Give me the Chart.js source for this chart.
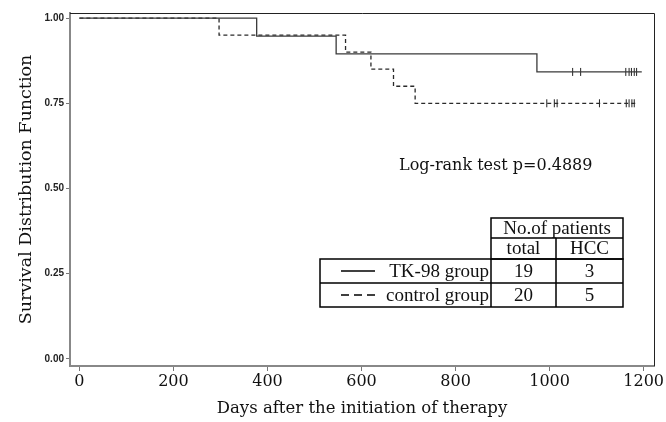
<!DOCTYPE html>
<html>
<head>
<meta charset="utf-8">
<script src="https://cdn.jsdelivr.net/npm/chart.js@4"></script>
<style>
  html, body { margin: 0; padding: 0; background: #fff; }
  #wrap { width: 666px; height: 422px; }
</style>
</head>
<body>
<div id="wrap"><canvas id="km-chart" width="666" height="422"></canvas></div>
<script>
// Kaplan-Meier steps (day, survival)
const tkDays = [0, 377, 546, 973, 1196]
const tkSurv = [1.0, 0.947, 0.895, 0.842, 0.842]
const ctrlDays = [0, 297, 566, 620, 668, 714, 1188]
const ctrlSurv = [1.0, 0.95, 0.90, 0.85, 0.80, 0.75, 0.75]

// censored observations
const tkCensorDays = [1049, 1066, 1162, 1169, 1174, 1180, 1185]
const tkCensorSurv = 0.842
const ctrlCensorDays = [994, 1010, 1016, 1106, 1163, 1169, 1175, 1180]
const ctrlCensorSurv = 0.75

// table in the lower right
const groupNames = ['TK-98 group', 'control group']
const totalPatients = [19, 20]
const hccCounts = [3, 5]
const pValueText = 'Log-rank test p=0.4889'

const serif = '"DejaVu Serif", serif'
const tableFont = '"Liberation Serif", "Times New Roman", serif'

const toPoints = (xs, ys) => xs.map((x, i) => ({ x, y: Array.isArray(ys) ? ys[i] : ys }))

const extras = {
  id: 'extras',
  afterDraw(chart) {
    const ctx = chart.ctx
    const a = chart.chartArea
    ctx.save()
    // top and right edges of the frame
    ctx.strokeStyle = '#222'
    ctx.lineWidth = 1
    ctx.beginPath()
    ctx.moveTo(a.left, a.top + 0.5)
    ctx.lineTo(a.right + 0.5, a.top + 0.5)
    ctx.lineTo(a.right + 0.5, a.bottom)
    ctx.stroke()

    // log-rank text
    ctx.fillStyle = '#111'
    ctx.font = '16px ' + serif
    ctx.textBaseline = 'middle'
    ctx.textAlign = 'left'
    ctx.fillText(pValueText, 399, 166)

    // table
    const L = 320, C1 = 491, C2 = 556, R = 623
    const r0 = 218, r1 = 238, r2 = 259, r3 = 283, r4 = 307
    ctx.strokeStyle = '#000'
    ctx.lineWidth = 1.5
    ctx.strokeRect(C1, r0, R - C1, r2 - r0)
    ctx.beginPath()
    ctx.moveTo(C1, r1); ctx.lineTo(R, r1)
    ctx.moveTo(C2, r1); ctx.lineTo(C2, r4)
    ctx.stroke()
    ctx.strokeRect(L, r2, R - L, r4 - r2)
    ctx.beginPath()
    ctx.moveTo(L, r3); ctx.lineTo(R, r3)
    ctx.moveTo(C1, r2); ctx.lineTo(C1, r4)
    ctx.stroke()

    ctx.font = '19px ' + tableFont
    ctx.textAlign = 'center'
    ctx.fillText('No.of patients', (C1 + R) / 2, (r0 + r1) / 2 + 1)
    ctx.fillText('total', (C1 + C2) / 2, (r1 + r2) / 2 + 1)
    ctx.fillText('HCC', (C2 + R) / 2, (r1 + r2) / 2 + 1)
    const rows = [[r2, r3], [r3, r4]]
    rows.forEach(([t, b], i) => {
      const cy = (t + b) / 2 + 1
      ctx.textAlign = 'center'
      ctx.fillText(String(totalPatients[i]), (C1 + C2) / 2, cy)
      ctx.fillText(String(hccCounts[i]), (C2 + R) / 2, cy)
      ctx.textAlign = 'right'
      ctx.fillText(groupNames[i], C1 - 2, cy)
      // legend line sample
      ctx.lineWidth = 1.6
      ctx.setLineDash(i === 0 ? [] : [8, 5])
      ctx.beginPath()
      ctx.moveTo(341, cy - 1)
      ctx.lineTo(375, cy - 1)
      ctx.stroke()
      ctx.setLineDash([])
    })
    ctx.restore()
  }
}

const ctx = document.getElementById('km-chart').getContext('2d')
new Chart(ctx, {
  type: 'line',
  data: {
    datasets: [
      {
        label: 'TK-98 group',
        data: toPoints(tkDays, tkSurv),
        stepped: true,
        borderColor: '#3a3a3a',
        borderWidth: 1.3,
        pointRadius: 0,
        fill: false
      },
      {
        label: 'control group',
        data: toPoints(ctrlDays, ctrlSurv),
        stepped: true,
        borderColor: '#2a2a2a',
        borderWidth: 1.3,
        borderDash: [4, 3],
        pointRadius: 0,
        fill: false
      },
      {
        label: 'TK-98 censored',
        data: toPoints(tkCensorDays, tkCensorSurv),
        showLine: false,
        pointStyle: 'line',
        rotation: 90,
        pointRadius: 4,
        pointBorderWidth: 1,
        borderColor: '#222'
      },
      {
        label: 'control censored',
        data: toPoints(ctrlCensorDays, ctrlCensorSurv),
        showLine: false,
        pointStyle: 'line',
        rotation: 90,
        pointRadius: 4,
        pointBorderWidth: 1,
        borderColor: '#222'
      }
    ]
  },
  options: {
    responsive: false,
    animation: false,
    layout: { padding: { top: 13, right: 12, left: 0, bottom: 0 } },
    plugins: { legend: { display: false }, tooltip: { enabled: false } },
    scales: {
      x: {
        type: 'linear',
        min: -20,
        max: 1222,
        afterFit: s => { s.height = 56 },
        grid: { display: true, drawOnChartArea: false, drawTicks: true, tickLength: 5, color: '#777' },
        border: { display: true, color: '#888', width: 2 },
        ticks: {
          stepSize: 200,
          includeBounds: false,
          padding: 1,
          color: '#111',
          font: { family: serif, size: 16 },
          maxRotation: 0,
          callback: v => String(v)
        },
        title: {
          display: true,
          text: 'Days after the initiation of therapy',
          color: '#111',
          font: { family: serif, size: 16.5 },
          padding: { top: 0, bottom: 3 }
        }
      },
      y: {
        min: -0.021,
        max: 1.015,
        afterFit: s => { s.width = 70 },
        grid: { display: true, drawOnChartArea: false, drawTicks: true, tickLength: 4, color: '#777' },
        border: { display: true, color: '#888', width: 2 },
        ticks: {
          stepSize: 0.25,
          includeBounds: false,
          padding: 2,
          color: '#222',
          font: { family: '"Liberation Sans", Arial, sans-serif', size: 10, weight: 'bold' },
          callback: v => v.toFixed(2)
        },
        title: {
          display: true,
          text: 'Survival Distribution Function',
          color: '#111',
          font: { family: serif, size: 17.5 },
          padding: { top: 16, bottom: 0 }
        }
      }
    }
  },
  plugins: [extras]
})
</script>
</body>
</html>
